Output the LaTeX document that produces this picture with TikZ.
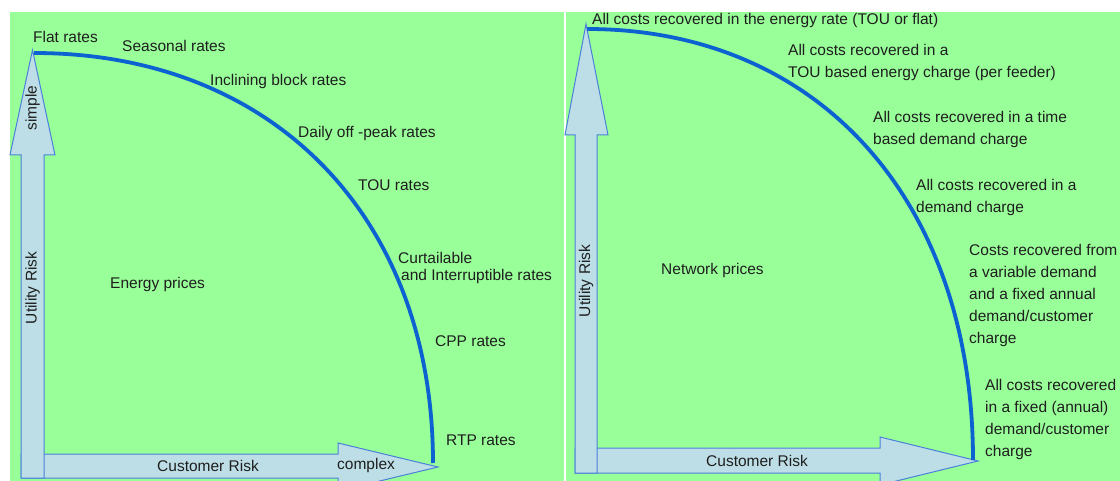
\documentclass[tikz,border=0pt]{standalone}
\usepackage{fontspec}
\setmainfont{Liberation Sans}
\definecolor{panelgreen}{RGB}{153,255,153}
\definecolor{arrowfill}{RGB}{189,222,230}
\definecolor{arrowline}{RGB}{74,128,218}
\definecolor{curveblue}{RGB}{12,98,208}
\definecolor{txt}{RGB}{30,30,30}
\begin{document}
\begin{tikzpicture}[x=1pt,y=-1pt]
    \tikzstyle{every node}=[inner sep=0pt,text=txt,font=\fontsize{15.5}{22}\selectfont];
    \tikzstyle{lbl}=[anchor=base west,align=left];
    \tikzstyle{blockarrow}=[fill=arrowfill,draw=arrowline,line width=1pt,line join=miter];
    \tikzstyle{riskcurve}=[draw=curveblue,line width=3.8pt];
    \useasboundingbox (0,0) rectangle (1120,481);
    \clip (0,0) rectangle (1120,481);
    % panels
    \fill[panelgreen] (10,12) rectangle (563.5,481);
    \fill[panelgreen] (565.5,12) rectangle (1120,481);
    % left: energy prices
    \draw[blockarrow] (21,454) -- (338,454) -- (338,443) -- (438,467) -- (338,491)
    -- (338,478) -- (21,478) -- cycle;
    \draw[blockarrow] (21,478) -- (21,155) -- (10,155) -- (32.5,50) -- (55,155)
    -- (44,155) -- (44,478) -- cycle;
    \coordinate (e0) at (34,53);
    \coordinate (e1) at (433,463);
    \draw[riskcurve] (e0) .. controls (273,53) and (433,217) .. (e1);
    \node[lbl] (flat) at (33,42.5) {Flat rates};
    \node[lbl] (seasonal) at (122,51.5) {Seasonal rates};
    \node[lbl] (inclining) at (210,85.5) {Inclining block rates};
    \node[lbl] (daily) at (298,137.5) {Daily off -peak rates};
    \node[lbl] (tou) at (358,190.5) {TOU rates};
    % base west = last line of a multi-line node
    \node[lbl,font=\fontsize{15.5}{16.5}\selectfont] (curtail) at (398,280) {Curtailable\\\hspace*{3pt}and Interruptible rates};
    \node[lbl] (cpp) at (435,346.5) {CPP rates};
    \node[lbl] (rtp) at (446,445.5) {RTP rates};
    \node[lbl] (energy) at (110,288.5) {Energy prices};
    \node[rotate=90] (simple) at (32.5,108) {simple};
    \node[rotate=90] (urisk1) at (32.5,288) {Utility Risk};
    \node[lbl] (crisk1) at (157,471.5) {Customer Risk};
    \node[lbl] (complex) at (337,469.5) {complex};
    % right: network prices
    \draw[blockarrow] (575,448) -- (880,448) -- (880,437) -- (978,461) -- (880,485)
    -- (880,473) -- (575,473) -- cycle;
    \draw[blockarrow] (575,473) -- (575,135) -- (565,135) -- (586,24) -- (608,135)
    -- (597,135) -- (597,473) -- cycle;
    \coordinate (n0) at (587,29);
    \coordinate (n1) at (973,460);
    \draw[riskcurve] (n0) .. controls (819,29) and (973,201) .. (n1);
    \node[lbl] (allrate) at (592,24.5) {All costs recovered in the energy rate (TOU or flat)};
    \node[lbl] (toucharge) at (788,77.5) {All costs recovered in a\\TOU based energy charge (per feeder)};
    \node[lbl] (timedemand) at (873,144.5) {All costs recovered in a time\\based demand charge};
    \node[lbl] (demand) at (916,212.5) {All costs recovered in a\\demand charge};
    \node[lbl] (variable) at (969,343.5) {Costs recovered from\\a variable demand\\and a fixed annual\\demand/customer\\charge};
    \node[lbl] (fixed) at (985,456.5) {All costs recovered\\in a fixed (annual)\\demand/customer\\charge};
    \node[lbl] (network) at (661,274.5) {Network prices};
    \node[rotate=90] (urisk2) at (586,281) {Utility Risk};
    \node[lbl] (crisk2) at (706,466.5) {Customer Risk};
\end{tikzpicture}
\end{document}
